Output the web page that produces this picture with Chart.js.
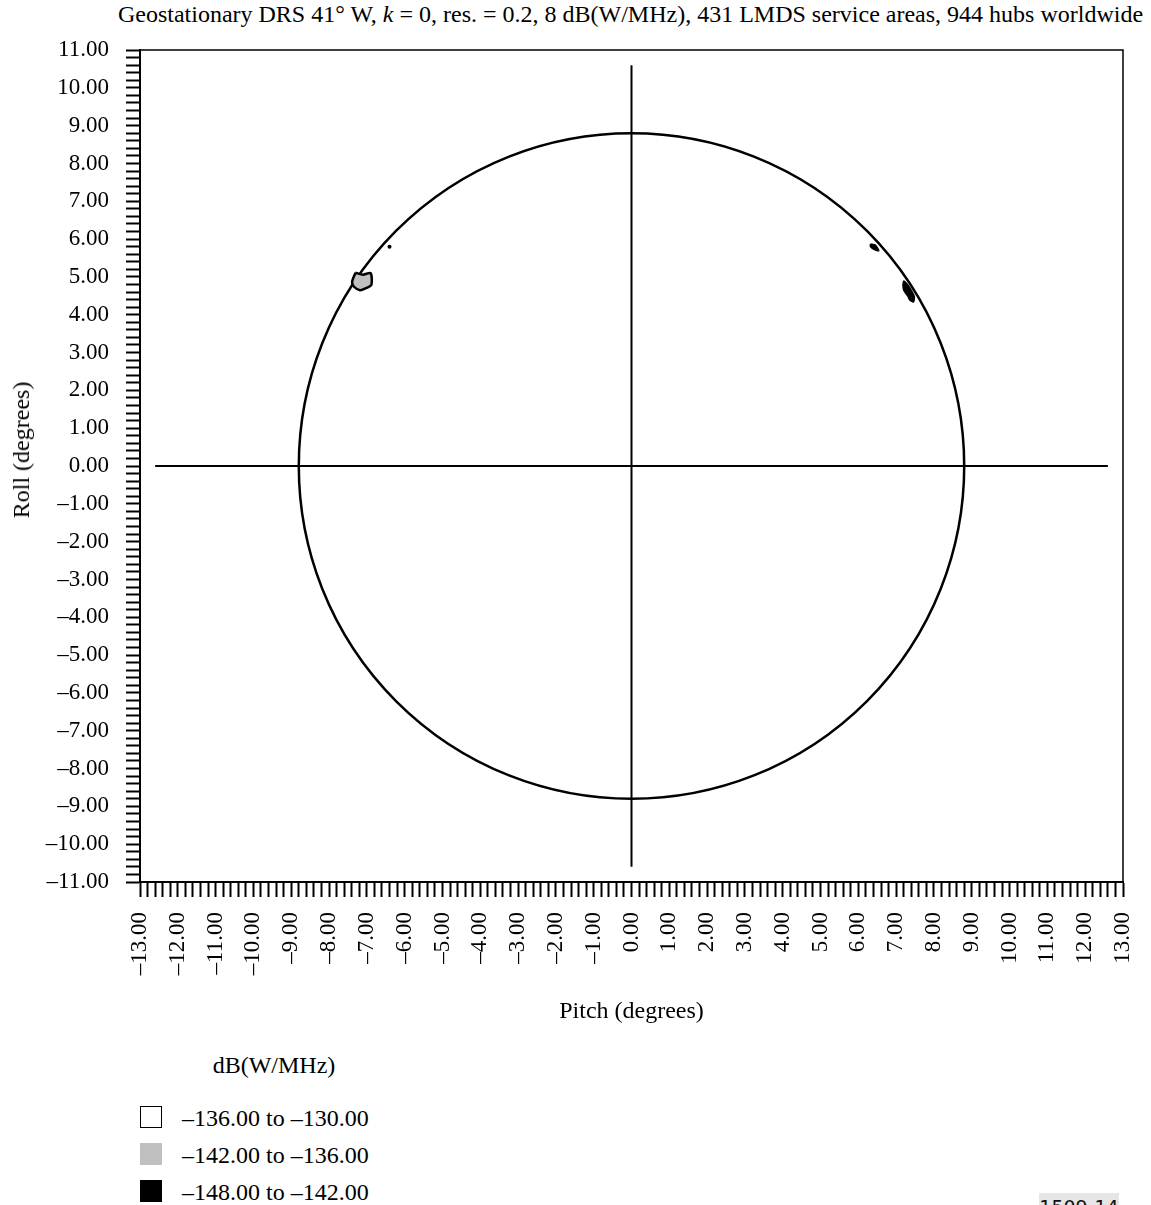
<!DOCTYPE html>
<html><head><meta charset="utf-8">
<script src="https://cdn.jsdelivr.net/npm/chart.js@4/dist/chart.umd.min.js"></script>
<style>
html,body{margin:0;padding:0;background:#fff;overflow:hidden;width:1151px;height:1205px;}
#wrap{position:relative;width:1151px;height:1205px;font-family:'Liberation Serif','Times New Roman',serif;color:#000;}
#title{position:absolute;left:630.5px;top:0;transform:translateX(-50%);white-space:nowrap;font-size:24px;line-height:28px;}
#c{position:absolute;left:0;top:0;}
#ytitle{position:absolute;left:20.7px;top:450px;transform:translate(-50%,-50%) rotate(-90deg);white-space:nowrap;font-size:24px;line-height:28px;}
#legtitle{position:absolute;left:274px;top:1065px;transform:translate(-50%,-50%);white-space:nowrap;font-size:24px;line-height:28px;}
.li{position:absolute;left:140px;height:24px;}
.sw{position:absolute;left:0;top:0;width:22px;height:22px;box-sizing:border-box;}
.lt{position:absolute;left:42px;top:-2px;white-space:nowrap;font-size:24px;line-height:28px;}
#code{position:absolute;left:1039px;top:1193px;width:80px;height:30px;background:#e6e6e6;font-family:'DejaVu Sans',sans-serif;font-size:19px;line-height:24px;color:#111;text-align:center;padding-top:2px;}
</style></head>
<body><div id="wrap">
<div id="title">Geostationary DRS 41° W, <i>k</i> = 0, res. = 0.2, 8 dB(W/MHz), 431 LMDS service areas, 944 hubs worldwide</div>
<canvas id="c" width="1151" height="1040"></canvas>
<div id="ytitle">Roll (degrees)</div>
<div id="legtitle">dB(W/MHz)</div>
<div id="legend"></div>
<div id="code">1509-14</div>
</div>
<script>
// ---- data ----
const xTickRange = [-13, 13];
const yTickRange = [-11, 11];
const minorStep = 0.2;
const axisTitleX = 'Pitch (degrees)';
const legendLabels = ['–136.00 to –130.00', '–142.00 to –136.00', '–148.00 to –142.00'];
const legendColors = ['#ffffff', '#c0c0c0', '#000000'];
const circleCenter = [0, 0];
const circleRadius = 8.8;
const crossVertical = [{x:0, y:-10.6}, {x:0, y:10.6}];
const crossHorizontal = [{x:-12.6, y:0}, {x:12.6, y:0}];
const blobGrayLeft = [
  {x:-7.30,y:5.11},{x:-7.10,y:5.06},{x:-6.90,y:5.10},{x:-6.88,y:4.79},{x:-7.03,y:4.70},
  {x:-7.18,y:4.65},{x:-7.34,y:4.74},{x:-7.39,y:4.87},{x:-7.30,y:5.11}
];
const dotLeft = [{x:-6.40, y:5.80}];
const blobBlackRightSmall = [
  {x:6.32,y:5.87},{x:6.45,y:5.84},{x:6.54,y:5.69},{x:6.41,y:5.73},{x:6.32,y:5.80},{x:6.32,y:5.87}
];
const blobBlackRight = [
  {x:7.20,y:4.90},{x:7.31,y:4.79},{x:7.42,y:4.61},{x:7.48,y:4.48},{x:7.46,y:4.34},
  {x:7.36,y:4.39},{x:7.31,y:4.49},{x:7.20,y:4.65},{x:7.18,y:4.79},{x:7.20,y:4.90}
];

// ---- legend (HTML) ----
const leg = document.getElementById('legend');
legendLabels.forEach((t, i) => {
  const d = document.createElement('div');
  d.className = 'li';
  d.style.top = (1106 + i * 37) + 'px';
  const s = document.createElement('div');
  s.className = 'sw';
  s.style.background = legendColors[i];
  s.style.border = i === 0 ? '1.5px solid #000' : 'none';
  const l = document.createElement('div');
  l.className = 'lt';
  l.textContent = t;
  d.appendChild(s); d.appendChild(l);
  leg.appendChild(d);
});

const fmt = v => {
  if (Math.abs(v - Math.round(v)) > 1e-6) return '';
  const r = Math.round(v);
  return (r < 0 ? '–' : '') + Math.abs(r).toFixed(2);
};

const circlePlugin = {
  id: 'circle',
  beforeDatasetsDraw(chart) {
    const xs = chart.scales.x, ys = chart.scales.y, ctx = chart.ctx;
    const cx = xs.getPixelForValue(circleCenter[0]);
    const cy = ys.getPixelForValue(circleCenter[1]);
    const rx = Math.abs(xs.getPixelForValue(circleCenter[0] + circleRadius) - cx);
    const ry = Math.abs(ys.getPixelForValue(circleCenter[1] + circleRadius) - cy);
    ctx.save();
    ctx.strokeStyle = '#000';
    ctx.lineWidth = 2.5;
    ctx.beginPath();
    ctx.ellipse(cx, cy, rx, ry, 0, 0, Math.PI * 2);
    ctx.stroke();
    ctx.restore();
  },
  afterDraw(chart) {
    const a = chart.chartArea, ctx = chart.ctx;
    ctx.save();
    ctx.strokeStyle = '#000';
    ctx.lineWidth = 1.5;
    ctx.beginPath();
    ctx.moveTo(a.left, a.top);
    ctx.lineTo(a.right, a.top);
    ctx.lineTo(a.right, a.bottom);
    ctx.stroke();
    ctx.restore();
  }
};

const lineDs = (data) => ({data, showLine:true, borderColor:'#000', borderWidth:2, pointRadius:0, fill:false});
const blobDs = (data, bg, bw) => ({data, showLine:true, borderColor:'#000', borderWidth:bw, pointRadius:0, fill:'shape', backgroundColor:bg, tension:0.25});

new Chart(document.getElementById('c'), {
  type: 'scatter',
  data: {
    datasets: [
      lineDs(crossVertical),
      lineDs(crossHorizontal),
      blobDs(blobGrayLeft, '#c0c0c0', 2.5),
      blobDs(blobBlackRightSmall, '#000', 1.5),
      blobDs(blobBlackRight, '#000', 1.5),
      {data: dotLeft, pointRadius:2, pointBackgroundColor:'#000', pointBorderWidth:0, showLine:false}
    ]
  },
  options: {
    responsive: false,
    animation: false,
    devicePixelRatio: 1,
    layout: {padding: {top: 50, left: 0, right: 28, bottom: 0}},
    plugins: {legend: {display:false}, tooltip: {enabled:false}, title: {display:false}},
    scales: {
      x: {
        type: 'linear', min: xTickRange[0], max: xTickRange[1],
        border: {display:true, color:'#000', width:2},
        grid: {drawOnChartArea:false, drawTicks:true, tickLength:15, tickColor:'#000', tickWidth:2},
        ticks: {stepSize: minorStep, autoSkip:false, minRotation:90, maxRotation:90, padding:15, color:'#000',
                font:{family:"'Liberation Serif', 'Times New Roman', serif", size:23}, callback: fmt},
        title: {display:true, text: axisTitleX, color:'#000', padding:{top:0,bottom:14},
                font:{family:"'Liberation Serif', 'Times New Roman', serif", size:24}},
        afterFit(s) { s.height = 158; s.paddingLeft = 0; s.paddingRight = 0; }
      },
      y: {
        type: 'linear', min: yTickRange[0], max: yTickRange[1],
        border: {display:true, color:'#000', width:2},
        grid: {drawOnChartArea:false, drawTicks:true, tickLength:14, tickColor:'#000', tickWidth:2},
        ticks: {stepSize: minorStep, autoSkip:false, padding:17, color:'#000',
                font:{family:"'Liberation Serif', 'Times New Roman', serif", size:23}, callback: fmt},
        afterFit(s) { s.width = 140; s.paddingTop = 0; s.paddingBottom = 0; }
      }
    }
  },
  plugins: [circlePlugin]
});
</script>
</body></html>
